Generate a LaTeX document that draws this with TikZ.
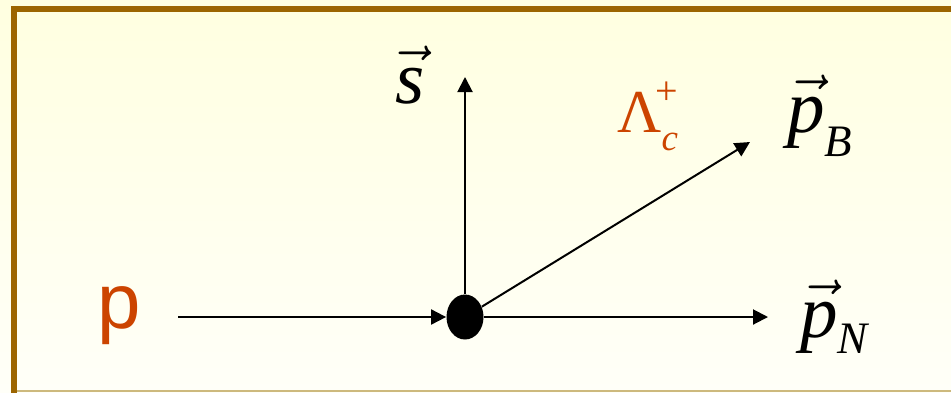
\RequirePackage{fix-cm}
\documentclass[tikz,border=0pt]{standalone}
\usepackage[no-math]{fontspec}
\setmainfont{Liberation Serif}
\newfontfamily\timesfont{Liberation Serif}
\newfontfamily\arialfont{Liberation Sans}
\usetikzlibrary{arrows.meta, shapes.geometric}
\definecolor{frame}{RGB}{156,101,0}
\definecolor{edge}{RGB}{205,185,125}
\definecolor{rust}{RGB}{204,68,0}
\definecolor{paper}{RGB}{255,255,224}
\definecolor{paperlow}{RGB}{255,255,248}
\tikzset{
  lbl/.style={anchor=base west, inner sep=0pt, font=\timesfont\fontsize{37.5}{40}\selectfont},
  mom/.style={-{Triangle[length=7.5pt,width=7.5pt]}, line width=1pt}
}
\newcommand\vletter[1]{$\vec{\hbox{\timesfont\itshape #1}}$}
\newcommand\vlbl[3]{\vletter{#1}\raisebox{#3}{\fontsize{22.5}{24}\selectfont\itshape #2}}

\begin{document}
\begin{tikzpicture}[x=0.5pt, y=-0.5pt]
  \useasboundingbox (0,0) rectangle (951,392);
  \shade[top color=paper, bottom color=paperlow] (0,0) rectangle (951,392);
  \draw[frame, line width=3pt] (14,396) -- (14,9) -- (956,9);
  \draw[edge, line width=0.75pt] (17,391) -- (951,391);

  \node[ellipse, fill, inner sep=0pt, minimum width=18.5pt, minimum height=22.5pt] (vtx) at (465,317) {};
  \coordinate (pin) at (178,317);
  \coordinate (stip) at (465,77);
  \coordinate (pBtip) at (750,142);
  \coordinate (pNtip) at (768,317);

  \draw[mom] (pin) -- (vtx);
  \draw[mom] (vtx) -- (stip);
  \draw[mom] (vtx) -- (pBtip);
  \draw[mom] (vtx) -- (pNtip);

  \node[lbl, text=rust, font=\arialfont\fontsize{39}{40}\selectfont] (proton) at (97,328) {p};
  \node[lbl] (spin) at (395,103) {\vletter{s}};
  \node[lbl] (pB) at (787,132) {\vlbl{p}{B}{-12pt}};
  \node[lbl] (pN) at (800,337) {\vlbl{p}{N}{-8pt}};
  \node[lbl, text=rust, font=\timesfont\fontsize{30.5}{32}\selectfont] (lam) at (617,132)
    {Λ\kern-3pt\rlap{\raisebox{14pt}{\fontsize{20}{20}\selectfont +}}\kern3pt\raisebox{-9pt}{\fontsize{18.5}{20}\selectfont\itshape c}};
\end{tikzpicture}
\end{document}
